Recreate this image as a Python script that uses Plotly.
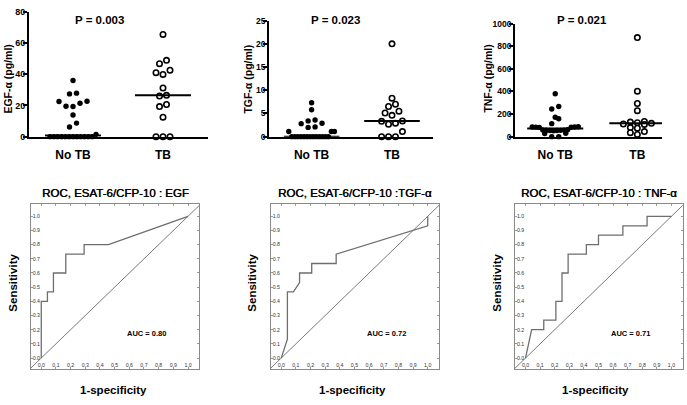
import numpy as np
import plotly.graph_objects as go

# ---------------- data ----------------
categories = ["No TB", "TB"]

egf_no_tb = [36.0, 27.9, 27.4, 22.7, 22.5, 21.4, 19.5, 19.3, 13.9, 8.7, 6.2, 1.5,
             0, 0, 0, 0, 0, 0, 0, 0, 0, 0, 0, 0]
egf_tb = [65.5, 48.9, 46.8, 42.6, 41.0, 39.9, 31.2, 26.5, 26.0, 20.6, 19.3, 12.5, 0, 0, 0]

tgf_no_tb = [7.3, 5.8, 3.6, 3.4, 2.9, 2.8, 2.1, 2.0, 1.1, 1.1, 1.1,
             0, 0, 0, 0, 0, 0, 0, 0, 0, 0, 0, 0, 0]
tgf_tb = [20.0, 8.3, 7.0, 6.5, 5.5, 5.1, 4.6, 3.4, 3.3, 2.9, 2.7, 1.1, 0, 0, 0]

tnf_no_tb = [379, 267, 244, 172, 158, 115, 88, 86, 85, 84, 83, 82, 62, 60, 58, 57,
             56, 55, 54, 52, 30, 28, 0, 0]
tnf_tb = [876, 402, 293, 230, 135, 129, 124, 118, 112, 108, 80, 75, 45, 35, 20]

p_values = ["P = 0.003", "P = 0.023", "P = 0.021"]
y_titles = ["EGF-α (pg/ml)", "TGF-α (pg/ml)", "TNF-α (pg/ml)"]

egf_fpr = [0.0, 0.0, 0.042, 0.042, 0.083, 0.083, 0.167, 0.167, 0.292, 0.292, 0.458, 1.0]
egf_tpr = [0.0, 0.4, 0.4, 0.467, 0.467, 0.6, 0.6, 0.733, 0.733, 0.8, 0.8, 1.0]

tgf_fpr = [0.0, 0.042, 0.042, 0.083, 0.125, 0.125, 0.208, 0.208, 0.375, 0.375, 1.0, 1.0]
tgf_tpr = [0.0, 0.133, 0.467, 0.467, 0.533, 0.6, 0.6, 0.667, 0.667, 0.733, 0.933, 1.0]

tnf_fpr = [0.0, 0.042, 0.125, 0.125, 0.208, 0.208, 0.25, 0.25, 0.292, 0.292, 0.417, 0.417,
           0.5, 0.5, 0.667, 0.667, 0.833, 0.833, 1.0]
tnf_tpr = [0.0, 0.2, 0.2, 0.267, 0.267, 0.4, 0.4, 0.6, 0.6, 0.733, 0.733, 0.8,
           0.8, 0.867, 0.867, 0.933, 0.933, 1.0, 1.0]

roc_titles = ["ROC, ESAT-6/CFP-10 : EGF", "ROC, ESAT-6/CFP-10 :TGF-α", "ROC, ESAT-6/CFP-10 : TNF-α"]
auc_labels = ["AUC = 0.80", "AUC = 0.72", "AUC = 0.71"]

# ---------------- layout helpers ----------------
W, H = 687, 405
FONT = "Arial, Liberation Sans, sans-serif"


def px_x(p):
    return p / W


def px_y(p):
    return 1 - p / H


def bin_offsets(vals, px_per_unit, bin_px=5.5, step=7.0, maxw=46.0):
    """GraphPad-like scatter-dot spreading: points in the same vertical band
    are spread horizontally, centre-out."""
    vals = np.asarray(vals, float)
    order = np.argsort(vals, kind="stable")
    xs = np.zeros(len(vals))
    bins, cur, start = [], [], None
    for i in order:
        if start is None or (vals[i] - start) * px_per_unit >= bin_px:
            if cur:
                bins.append(cur)
            cur, start = [i], vals[i]
        else:
            cur.append(i)
    if cur:
        bins.append(cur)
    for b in bins:
        n = len(b)
        if n == 1:
            continue
        sp = min(step, maxw / (n - 1))
        slots = [(k - (n - 1) / 2) * sp for k in range(n)]
        slots.sort(key=lambda s: (abs(s), s))
        for i, s in zip(b, slots):
            xs[i] = s
    return xs


fig = go.Figure()

top = [
    dict(no=egf_no_tb, tb=egf_tb, x0=29, x1=208, ytop=7, ymax=80, dtick=20, cat_px=90,
         xr=[-0.489, 1.5], tfs=9, ptx=100, ytx=8.5),
    dict(no=tgf_no_tb, tb=tgf_tb, x0=269, x1=433, ytop=16, ymax=25, dtick=5, cat_px=81,
         xr=[-0.53, 1.51], tfs=8.5, ptx=335, ytx=248.5),
    dict(no=tnf_no_tb, tb=tnf_tb, x0=515, x1=662, ytop=19, ymax=1000, dtick=200, cat_px=82,
         xr=[-0.49, 1.30], tfs=8.5, ptx=582, ytx=488.5),
]
YBOT = 135
shapes = []
annotations = []
for k, p in enumerate(top):
    ax = k + 1
    xa = "x" if ax == 1 else f"x{ax}"
    ya = "y" if ax == 1 else f"y{ax}"
    ppu = (YBOT - p["ytop"]) / p["ymax"]
    for gi, (vals, filled) in enumerate([(p["no"], True), (p["tb"], False)]):
        offs = bin_offsets(vals, ppu) / p["cat_px"]
        xs = gi + offs
        fig.add_trace(go.Scatter(
            x=xs, y=vals, mode="markers", xaxis=xa, yaxis=ya, cliponaxis=False,
            showlegend=False, hoverinfo="skip",
            marker=dict(size=5.4, symbol="circle",
                        color="black" if filled else "white",
                        line=dict(color="black", width=0 if filled else 1.6)),
        ))
        med = float(np.median(vals))
        hw = 28 / p["cat_px"]
        shapes.append(dict(type="line", xref=xa, yref=ya, x0=gi - hw, x1=gi + hw,
                           y0=med, y1=med, line=dict(color="black", width=2)))
    fig.layout[("xaxis" if ax == 1 else f"xaxis{ax}")] = dict(
        domain=[px_x(p["x0"]), px_x(p["x1"])], anchor=ya, range=p["xr"],
        showline=True, linecolor="black", linewidth=1.8, showgrid=False, zeroline=False,
        tickvals=[0, 1], ticktext=categories, ticks="outside", ticklen=6,
        tickcolor="rgba(0,0,0,0)",
        tickfont=dict(family=FONT, size=12, color="black", weight="bold"),
    )
    fig.layout[("yaxis" if ax == 1 else f"yaxis{ax}")] = dict(
        domain=[px_y(YBOT), px_y(p["ytop"])], anchor=xa, range=[0, p["ymax"]],
        showline=True, linecolor="black", linewidth=1.8, showgrid=False, zeroline=False,
        dtick=p["dtick"], tick0=0, ticks="outside", ticklen=4, tickwidth=1.5,
        tickcolor="black", ticklabelstandoff=-4,
        tickfont=dict(family=FONT, size=p["tfs"], color="black", weight="bold"),
    )
    annotations.append(dict(text=f"<b>{p_values[k]}</b>", xref="paper", yref="paper",
                            x=px_x(p["ptx"]), y=px_y(15), showarrow=False,
                            xanchor="center", yanchor="middle",
                            font=dict(family=FONT, size=11.5, color="black")))
    annotations.append(dict(text=f"<b>{y_titles[k]}</b>", xref="paper", yref="paper",
                            x=px_x(p["ytx"]), y=px_y(76), showarrow=False, textangle=-90,
                            xanchor="center", yanchor="middle",
                            font=dict(family=FONT, size=10.5, color="black")))

roc = [
    dict(fpr=egf_fpr, tpr=egf_tpr, x0=30.7, x1=199.3, sx=12.7, spec_x=113),
    dict(fpr=tgf_fpr, tpr=tgf_tpr, x0=270.7, x1=439.0, sx=251.7, spec_x=352),
    dict(fpr=tnf_fpr, tpr=tnf_tpr, x0=515.0, x1=682.7, sx=496.7, spec_x=595),
]
RX = [-0.072, 1.077]
RY = [-0.078, 1.085]
diag = [-0.1, 1.1]
for k, r in enumerate(roc):
    ax = k + 4
    xa, ya = f"x{ax}", f"y{ax}"
    fig.add_trace(go.Scatter(x=diag, y=diag, mode="lines", xaxis=xa, yaxis=ya,
                             showlegend=False, hoverinfo="skip",
                             line=dict(color="#7a7a7a", width=1)))
    fig.add_trace(go.Scatter(x=r["fpr"], y=r["tpr"], mode="lines", xaxis=xa, yaxis=ya,
                             showlegend=False, hoverinfo="skip",
                             line=dict(color="#6e6e6e", width=1.3)))
    common = dict(showline=True, mirror="ticks", linecolor="#8a8a8a", linewidth=1,
                  showgrid=False, zeroline=False, dtick=0.1, tick0=0, tickformat=".1f",
                  ticks="inside", ticklen=2, tickcolor="#999999",
                  ticklabelposition="inside",
                  tickfont=dict(family=FONT, size=5.2, color="#333333"))
    fig.layout[f"xaxis{ax}"] = dict(domain=[px_x(r["x0"]), px_x(r["x1"])], anchor=ya,
                                    range=RX, ticklabelstandoff=-3, **common)
    fig.layout[f"yaxis{ax}"] = dict(domain=[px_y(373.3), px_y(204.3)], anchor=xa,
                                    range=RY, ticklabelstandoff=-2, **common)
    cx = (r["x0"] + r["x1"]) / 2
    annotations.append(dict(text=roc_titles[k], xref="paper", yref="paper",
                            x=px_x(cx), y=px_y(193), showarrow=False,
                            xanchor="center", yanchor="middle",
                            font=dict(family=FONT, size=11.5, color="black",
                                      shadow="0.45px 0px 0px black")))
    annotations.append(dict(text="<b>Sensitivity</b>", xref="paper", yref="paper",
                            x=px_x(r["sx"]), y=px_y(285), showarrow=False, textangle=-90,
                            xanchor="center", yanchor="middle",
                            font=dict(family=FONT, size=11.5, color="black")))
    annotations.append(dict(text="<b>1-specificity</b>", xref="paper", yref="paper",
                            x=px_x(r["spec_x"]), y=px_y(395), showarrow=False,
                            xanchor="center", yanchor="middle",
                            font=dict(family=FONT, size=11.5, color="black")))
    annotations.append(dict(text=f"<b>{auc_labels[k]}</b>", xref=xa, yref=ya,
                            x=0.72, y=0.175, showarrow=False,
                            xanchor="center", yanchor="middle",
                            font=dict(family=FONT, size=7.5, color="black")))

fig.update_layout(
    width=W, height=H, margin=dict(l=0, r=0, t=0, b=0),
    paper_bgcolor="white", plot_bgcolor="white",
    shapes=shapes, annotations=annotations, showlegend=False,
)
fig.write_html("out.html", config={"displayModeBar": False},
               post_script="document.body.style.margin='0px';")
